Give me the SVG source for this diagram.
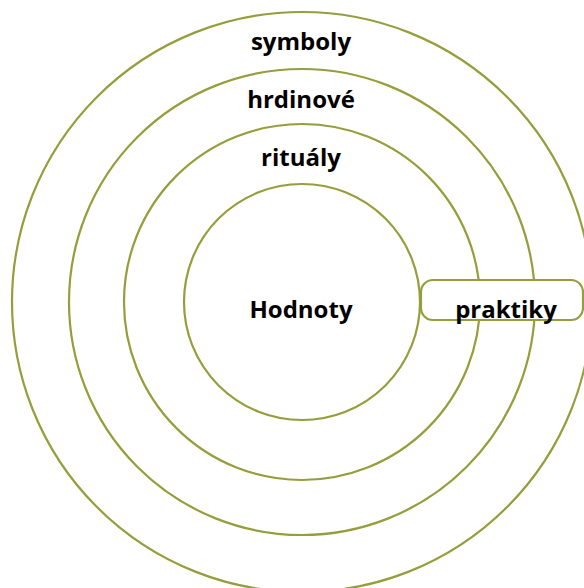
<svg xmlns="http://www.w3.org/2000/svg" width="584" height="588" viewBox="0 0 584 588">
<style>
.ring{fill:none;stroke:#969e3c;stroke-width:2.2}
.lbl{font-family:"Open Sans",Lato,sans-serif;font-weight:bold;font-size:24px;fill:#000;text-anchor:middle}
.box{fill:#fff;stroke:#969e3c;stroke-width:2.2}
</style>
<rect width="584" height="588" fill="#fff"/>
<g id="ring-symboly">
<circle class="ring" cx="302" cy="302" r="290"/>
<text class="lbl" x="301" y="50">symboly</text>
</g>
<g id="ring-hrdinove">
<circle class="ring" cx="302" cy="302" r="233"/>
<text class="lbl" x="301" y="108">hrdinové</text>
</g>
<g id="ring-ritualy">
<circle class="ring" cx="302" cy="302" r="178"/>
<text class="lbl" x="301" y="166">rituály</text>
</g>
<g id="core-hodnoty">
<circle class="ring" cx="302" cy="302" r="118"/>
<text class="lbl" x="301" y="318">Hodnoty</text>
</g>
<g id="praktiky">
<rect class="box" x="421" y="280" width="162" height="40" rx="12"/>
<text class="lbl" x="506" y="318">praktiky</text>
</g>
<g id="connectors"/>
</svg>
